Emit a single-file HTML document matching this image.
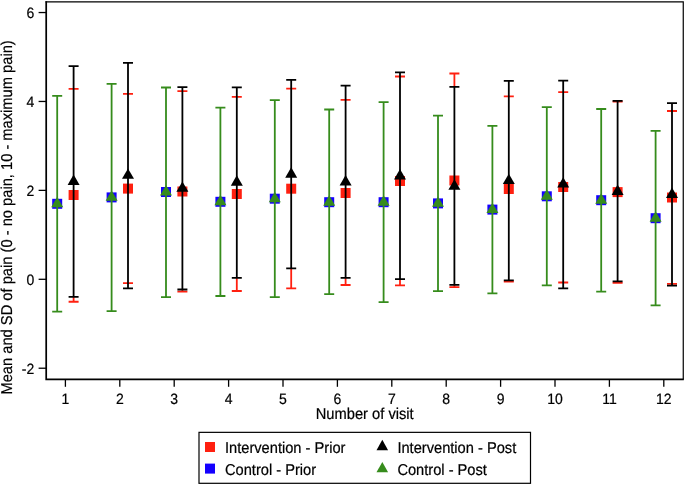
<!DOCTYPE html>
<html><head><meta charset="utf-8"><style>
html,body{margin:0;padding:0;background:#fff;}
body{width:685px;height:485px;overflow:hidden;}
svg{display:block;}
#w{will-change:transform;}
text{font-family:"Liberation Sans",sans-serif;fill:#000;text-rendering:geometricPrecision;stroke:#000;stroke-width:0.2px;}
.tk{font-size:14px;}
.tt{font-size:14.7px;}
.lg{font-size:14.65px;}
</style></head><body>
<div id="w"><svg width="685" height="485" viewBox="0 0 685 485">
<rect width="685" height="485" fill="#fff"/>
<path d="M68.60 88.90H78.60M68.60 301.75H78.60M73.60 296.90V301.75" stroke="#ff2010" stroke-width="1.8" fill="none"/>
<rect x="68.60" y="190.00" width="10" height="10" fill="#ff2010"/>
<path d="M73.60 66.10V296.90M68.60 66.10H78.60M68.60 296.90H78.60" stroke="#000000" stroke-width="1.8" fill="none"/>
<path d="M73.60 174.50L79.60 184.90L67.60 184.90Z" fill="#000000"/>
<rect x="52.20" y="198.80" width="10" height="10" fill="#1400ff"/>
<path d="M57.20 95.80V311.70M52.20 95.80H62.20M52.20 311.70H62.20" stroke="#368c1c" stroke-width="1.8" fill="none"/>
<path d="M57.20 196.87L63.20 207.27L51.20 207.27Z" fill="#368c1c"/>
<path d="M123.00 93.80H133.00M123.00 283.10H133.00" stroke="#ff2010" stroke-width="1.8" fill="none"/>
<rect x="123.00" y="183.60" width="10" height="10" fill="#ff2010"/>
<path d="M128.00 62.80V288.40M123.00 62.80H133.00M123.00 288.40H133.00" stroke="#000000" stroke-width="1.8" fill="none"/>
<path d="M128.00 168.40L134.00 178.80L122.00 178.80Z" fill="#000000"/>
<rect x="106.60" y="192.40" width="10" height="10" fill="#1400ff"/>
<path d="M111.60 83.80V311.10M106.60 83.80H116.60M106.60 311.10H116.60" stroke="#368c1c" stroke-width="1.8" fill="none"/>
<path d="M111.60 190.47L117.60 200.87L105.60 200.87Z" fill="#368c1c"/>
<path d="M177.40 91.20H187.40M177.40 291.60H187.40M182.40 289.50V291.60" stroke="#ff2010" stroke-width="1.8" fill="none"/>
<rect x="177.40" y="186.50" width="10" height="10" fill="#ff2010"/>
<path d="M182.40 87.20V289.50M177.40 87.20H187.40M177.40 289.50H187.40" stroke="#000000" stroke-width="1.8" fill="none"/>
<path d="M182.40 181.40L188.40 191.80L176.40 191.80Z" fill="#000000"/>
<rect x="161.00" y="187.00" width="10" height="10" fill="#1400ff"/>
<path d="M166.00 87.50V297.10M161.00 87.50H171.00M161.00 297.10H171.00" stroke="#368c1c" stroke-width="1.8" fill="none"/>
<path d="M166.00 185.07L172.00 195.47L160.00 195.47Z" fill="#368c1c"/>
<path d="M231.80 96.80H241.80M231.80 291.00H241.80M236.80 277.80V291.00" stroke="#ff2010" stroke-width="1.8" fill="none"/>
<rect x="231.80" y="189.00" width="10" height="10" fill="#ff2010"/>
<path d="M236.80 87.40V277.80M231.80 87.40H241.80M231.80 277.80H241.80" stroke="#000000" stroke-width="1.8" fill="none"/>
<path d="M236.80 175.30L242.80 185.70L230.80 185.70Z" fill="#000000"/>
<rect x="215.40" y="196.80" width="10" height="10" fill="#1400ff"/>
<path d="M220.40 107.70V296.00M215.40 107.70H225.40M215.40 296.00H225.40" stroke="#368c1c" stroke-width="1.8" fill="none"/>
<path d="M220.40 194.87L226.40 205.27L214.40 205.27Z" fill="#368c1c"/>
<path d="M286.20 88.70H296.20M286.20 288.40H296.20M291.20 268.35V288.40" stroke="#ff2010" stroke-width="1.8" fill="none"/>
<rect x="286.20" y="183.70" width="10" height="10" fill="#ff2010"/>
<path d="M291.20 79.80V268.35M286.20 79.80H296.20M286.20 268.35H296.20" stroke="#000000" stroke-width="1.8" fill="none"/>
<path d="M291.20 167.30L297.20 177.70L285.20 177.70Z" fill="#000000"/>
<rect x="269.80" y="193.70" width="10" height="10" fill="#1400ff"/>
<path d="M274.80 100.10V297.10M269.80 100.10H279.80M269.80 297.10H279.80" stroke="#368c1c" stroke-width="1.8" fill="none"/>
<path d="M274.80 191.77L280.80 202.17L268.80 202.17Z" fill="#368c1c"/>
<path d="M340.60 99.90H350.60M340.60 285.00H350.60M345.60 277.80V285.00" stroke="#ff2010" stroke-width="1.8" fill="none"/>
<rect x="340.60" y="188.00" width="10" height="10" fill="#ff2010"/>
<path d="M345.60 85.70V277.80M340.60 85.70H350.60M340.60 277.80H350.60" stroke="#000000" stroke-width="1.8" fill="none"/>
<path d="M345.60 175.00L351.60 185.40L339.60 185.40Z" fill="#000000"/>
<rect x="324.20" y="197.20" width="10" height="10" fill="#1400ff"/>
<path d="M329.20 109.50V294.20M324.20 109.50H334.20M324.20 294.20H334.20" stroke="#368c1c" stroke-width="1.8" fill="none"/>
<path d="M329.20 195.27L335.20 205.67L323.20 205.67Z" fill="#368c1c"/>
<path d="M395.00 76.50H405.00M395.00 285.40H405.00M400.00 279.10V285.40" stroke="#ff2010" stroke-width="1.8" fill="none"/>
<rect x="395.00" y="176.00" width="10" height="10" fill="#ff2010"/>
<path d="M400.00 72.40V279.10M395.00 72.40H405.00M395.00 279.10H405.00" stroke="#000000" stroke-width="1.8" fill="none"/>
<path d="M400.00 169.10L406.00 179.50L394.00 179.50Z" fill="#000000"/>
<rect x="378.60" y="197.20" width="10" height="10" fill="#1400ff"/>
<path d="M383.60 102.10V302.10M378.60 102.10H388.60M378.60 302.10H388.60" stroke="#368c1c" stroke-width="1.8" fill="none"/>
<path d="M383.60 195.27L389.60 205.67L377.60 205.67Z" fill="#368c1c"/>
<path d="M449.40 73.50H459.40M449.40 287.10H459.40M454.40 73.50V86.80M454.40 284.90V287.10" stroke="#ff2010" stroke-width="1.8" fill="none"/>
<rect x="449.40" y="175.50" width="10" height="10" fill="#ff2010"/>
<path d="M454.40 86.80V284.90M449.40 86.80H459.40M449.40 284.90H459.40" stroke="#000000" stroke-width="1.8" fill="none"/>
<path d="M454.40 179.30L460.40 189.70L448.40 189.70Z" fill="#000000"/>
<rect x="433.00" y="198.40" width="10" height="10" fill="#1400ff"/>
<path d="M438.00 115.70V291.20M433.00 115.70H443.00M433.00 291.20H443.00" stroke="#368c1c" stroke-width="1.8" fill="none"/>
<path d="M438.00 196.47L444.00 206.87L432.00 206.87Z" fill="#368c1c"/>
<path d="M503.80 96.30H513.80M503.80 281.70H513.80M508.80 280.40V281.70" stroke="#ff2010" stroke-width="1.8" fill="none"/>
<rect x="503.80" y="184.00" width="10" height="10" fill="#ff2010"/>
<path d="M508.80 80.90V280.40M503.80 80.90H513.80M503.80 280.40H513.80" stroke="#000000" stroke-width="1.8" fill="none"/>
<path d="M508.80 173.70L514.80 184.10L502.80 184.10Z" fill="#000000"/>
<rect x="487.40" y="204.60" width="10" height="10" fill="#1400ff"/>
<path d="M492.40 125.80V293.40M487.40 125.80H497.40M487.40 293.40H497.40" stroke="#368c1c" stroke-width="1.8" fill="none"/>
<path d="M492.40 202.67L498.40 213.07L486.40 213.07Z" fill="#368c1c"/>
<path d="M558.20 92.10H568.20M558.20 282.50H568.20" stroke="#ff2010" stroke-width="1.8" fill="none"/>
<rect x="558.20" y="182.00" width="10" height="10" fill="#ff2010"/>
<path d="M563.20 80.70V288.40M558.20 80.70H568.20M558.20 288.40H568.20" stroke="#000000" stroke-width="1.8" fill="none"/>
<path d="M563.20 177.20L569.20 187.60L557.20 187.60Z" fill="#000000"/>
<rect x="541.80" y="191.30" width="10" height="10" fill="#1400ff"/>
<path d="M546.80 107.20V285.40M541.80 107.20H551.80M541.80 285.40H551.80" stroke="#368c1c" stroke-width="1.8" fill="none"/>
<path d="M546.80 189.37L552.80 199.77L540.80 199.77Z" fill="#368c1c"/>
<path d="M612.60 101.70H622.60M612.60 282.80H622.60M617.60 281.30V282.80" stroke="#ff2010" stroke-width="1.8" fill="none"/>
<rect x="612.60" y="187.10" width="10" height="10" fill="#ff2010"/>
<path d="M617.60 100.90V281.30M612.60 100.90H622.60M612.60 281.30H622.60" stroke="#000000" stroke-width="1.8" fill="none"/>
<path d="M617.60 184.60L623.60 195.00L611.60 195.00Z" fill="#000000"/>
<rect x="596.20" y="195.20" width="10" height="10" fill="#1400ff"/>
<path d="M601.20 109.00V291.70M596.20 109.00H606.20M596.20 291.70H606.20" stroke="#368c1c" stroke-width="1.8" fill="none"/>
<path d="M601.20 193.27L607.20 203.67L595.20 203.67Z" fill="#368c1c"/>
<path d="M667.00 111.00H677.00M667.00 283.80H677.00" stroke="#ff2010" stroke-width="1.8" fill="none"/>
<rect x="667.00" y="192.50" width="10" height="10" fill="#ff2010"/>
<path d="M672.00 103.20V285.60M667.00 103.20H677.00M667.00 285.60H677.00" stroke="#000000" stroke-width="1.8" fill="none"/>
<path d="M672.00 187.50L678.00 197.90L666.00 197.90Z" fill="#000000"/>
<rect x="650.60" y="213.20" width="10" height="10" fill="#1400ff"/>
<path d="M655.60 130.90V305.40M650.60 130.90H660.60M650.60 305.40H660.60" stroke="#368c1c" stroke-width="1.8" fill="none"/>
<path d="M655.60 211.27L661.60 221.67L649.60 221.67Z" fill="#368c1c"/>
<path d="M45.5 1.85H683.26V379.4" fill="none" stroke="#000" stroke-width="1.2"/>
<path d="M46.2 1.2V379.4H683.8" fill="none" stroke="#000" stroke-width="1.72"/>
<path d="M38.6 368.22H46.2" stroke="#000" stroke-width="1.3"/>
<text transform="translate(34.30 373.62) scale(1 1.07)" text-anchor="end" class="tk">-2</text>
<path d="M38.6 279.30H46.2" stroke="#000" stroke-width="1.3"/>
<text transform="translate(34.30 284.70) scale(1 1.07)" text-anchor="end" class="tk">0</text>
<path d="M38.6 190.38H46.2" stroke="#000" stroke-width="1.3"/>
<text transform="translate(34.30 195.78) scale(1 1.07)" text-anchor="end" class="tk">2</text>
<path d="M38.6 101.46H46.2" stroke="#000" stroke-width="1.3"/>
<text transform="translate(34.30 106.86) scale(1 1.07)" text-anchor="end" class="tk">4</text>
<path d="M38.6 12.54H46.2" stroke="#000" stroke-width="1.3"/>
<text transform="translate(34.30 17.94) scale(1 1.07)" text-anchor="end" class="tk">6</text>
<path d="M65.40 379.4V386.8" stroke="#000" stroke-width="1.3"/>
<text transform="translate(65.40 404.00) scale(1 1.07)" text-anchor="middle" class="tk">1</text>
<path d="M119.80 379.4V386.8" stroke="#000" stroke-width="1.3"/>
<text transform="translate(119.80 404.00) scale(1 1.07)" text-anchor="middle" class="tk">2</text>
<path d="M174.20 379.4V386.8" stroke="#000" stroke-width="1.3"/>
<text transform="translate(174.20 404.00) scale(1 1.07)" text-anchor="middle" class="tk">3</text>
<path d="M228.60 379.4V386.8" stroke="#000" stroke-width="1.3"/>
<text transform="translate(228.60 404.00) scale(1 1.07)" text-anchor="middle" class="tk">4</text>
<path d="M283.00 379.4V386.8" stroke="#000" stroke-width="1.3"/>
<text transform="translate(283.00 404.00) scale(1 1.07)" text-anchor="middle" class="tk">5</text>
<path d="M337.40 379.4V386.8" stroke="#000" stroke-width="1.3"/>
<text transform="translate(337.40 404.00) scale(1 1.07)" text-anchor="middle" class="tk">6</text>
<path d="M391.80 379.4V386.8" stroke="#000" stroke-width="1.3"/>
<text transform="translate(391.80 404.00) scale(1 1.07)" text-anchor="middle" class="tk">7</text>
<path d="M446.20 379.4V386.8" stroke="#000" stroke-width="1.3"/>
<text transform="translate(446.20 404.00) scale(1 1.07)" text-anchor="middle" class="tk">8</text>
<path d="M500.60 379.4V386.8" stroke="#000" stroke-width="1.3"/>
<text transform="translate(500.60 404.00) scale(1 1.07)" text-anchor="middle" class="tk">9</text>
<path d="M555.00 379.4V386.8" stroke="#000" stroke-width="1.3"/>
<text transform="translate(555.00 404.00) scale(1 1.07)" text-anchor="middle" class="tk">10</text>
<path d="M609.40 379.4V386.8" stroke="#000" stroke-width="1.3"/>
<text transform="translate(609.40 404.00) scale(1 1.07)" text-anchor="middle" class="tk">11</text>
<path d="M663.80 379.4V386.8" stroke="#000" stroke-width="1.3"/>
<text transform="translate(663.80 404.00) scale(1 1.07)" text-anchor="middle" class="tk">12</text>
<text transform="translate(364.70 418.80) scale(1 1.07)" text-anchor="middle" class="tt">Number of visit</text>
<text transform="translate(12.0 217.4) rotate(-90) scale(1 1.07)" text-anchor="middle" class="tt">Mean and SD of pain (0 - no pain, 10 - maximum pain)</text>
<rect x="199" y="432.35" width="331.5" height="50.95" fill="none" stroke="#000" stroke-width="1.2"/>
<rect x="205" y="442" width="10" height="10" fill="#ff2010"/>
<rect x="205" y="463.6" width="10" height="10" fill="#1400ff"/>
<path d="M382.3 439.8L388.1 450.2L376.5 450.2Z" fill="#000000"/>
<path d="M382.3 461.9L388.1 472.2L376.5 472.2Z" fill="#368c1c"/>
<text transform="translate(225.00 452.60) scale(1 1.07)" class="lg">Intervention - Prior</text>
<text transform="translate(225.00 474.80) scale(1 1.07)" class="lg">Control - Prior</text>
<text transform="translate(397.40 452.60) scale(1 1.07)" class="lg">Intervention - Post</text>
<text transform="translate(397.40 474.80) scale(1 1.07)" class="lg">Control - Post</text>
</svg></div>
</body></html>
